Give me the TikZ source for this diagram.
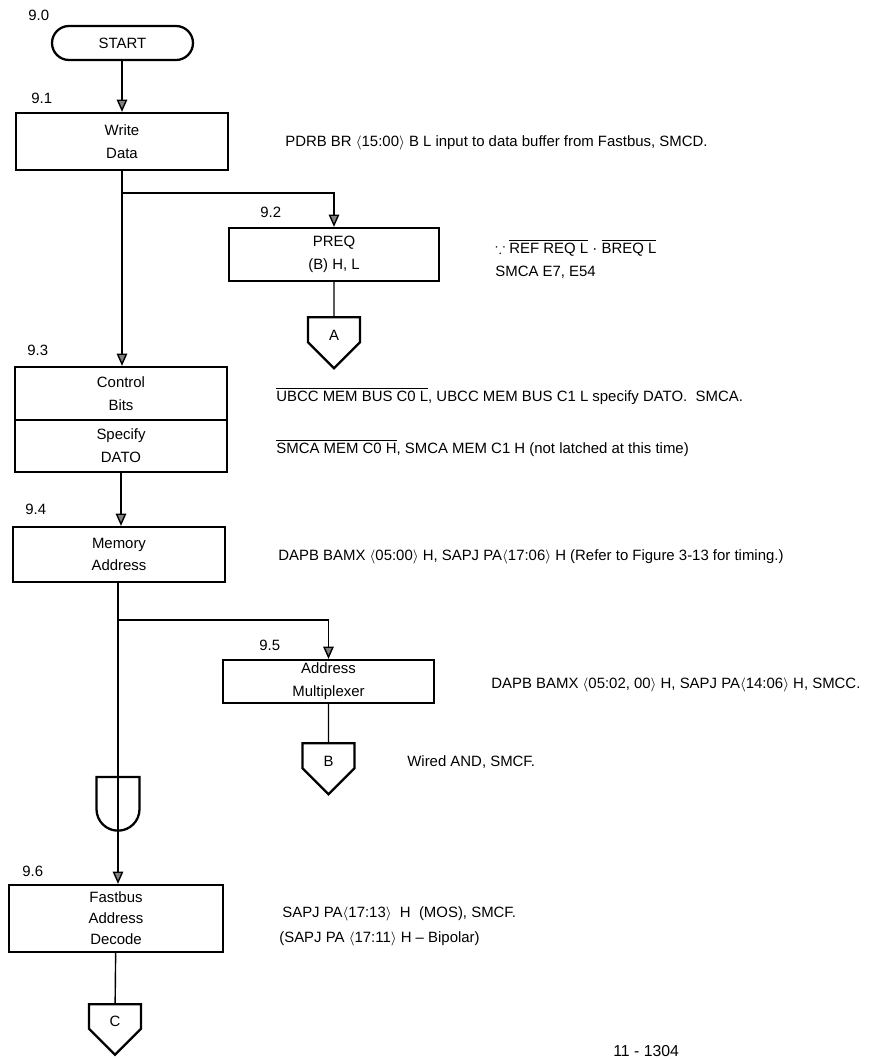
\documentclass[tikz,border=0pt]{standalone}
\usepackage{amssymb}
\usepackage{fontspec}
\setmainfont{Liberation Sans}
\usetikzlibrary{positioning}
\usetikzlibrary{arrows.meta}
\usetikzlibrary{shapes.symbols}
\usetikzlibrary{shapes.gates.logic.US}
\newcommand{\boxfont}{\fontsize{8.5}{13}\selectfont}
\newcommand{\ovl}[1]{$\overline{\mbox{#1}}$}
\newcommand{\abl}{\ensuremath{\langle}}
\newcommand{\abr}{\ensuremath{\rangle}}
\newcommand{\conlab}[1]{\raisebox{-3pt}[\height][\depth]{#1}}
\tikzset{
    stepbox/.style = {rectangle, draw=black, line width=1.3pt, minimum width=4.24cm, align=center, inner sep=0pt, font=\boxfont},
    startnode/.style = {rectangle, rounded corners=0.34cm, draw=black, line width=1.3pt, minimum width=2.82cm, minimum height=0.68cm, font=\boxfont},
    offpage/.style = {signal, signal to=south, draw=black, line width=1.3pt, minimum width=1.04cm, minimum height=0.6cm, inner sep=0pt, font=\boxfont},
    andnode/.style = {and gate US, draw=black, line width=1.3pt, rotate=-90, minimum width=0.88cm, minimum height=0.86cm, inner sep=0pt},
    stepno/.style = {anchor=base west, inner sep=0pt, font=\boxfont},
    note/.style = {anchor=base west, inner sep=0pt, font=\boxfont},
    edgen/.style = {-{Triangle[width=6pt,length=7pt,fill=gray]}, line width=0.8pt},
    edgel/.style = {line width=0.8pt}
}
\begin{document}
\begin{tikzpicture}[x=0.02cm, y=-0.02cm]
\useasboundingbox (0,0) rectangle (877,1059);
%
\node[startnode] at (122.5, 43) (start) {START};
\node[stepbox, minimum height=1.14cm] at (122, 141.5) (write) {Write\\Data};
\node[stepbox, minimum width=4.2cm, minimum height=1.06cm] at (334, 254.5) (preq) {PREQ\\(B) H, L};
\node[offpage, anchor=north] at (334, 316) (A) {\conlab{A}};
\node[stepbox, minimum height=1.06cm] at (121, 393.5) (ctrl) {Control\\Bits};
\node[stepbox, minimum height=1.04cm] at (121, 446) (dato) {Specify\\DATO};
\node[stepbox, minimum height=1.1cm] at (119, 554.5) (mem) {Memory\\Address};
\node[stepbox, minimum width=4.22cm, minimum height=0.86cm] at (328.5, 681.5) (amux) {Address\\Multiplexer};
\node[offpage, anchor=north] at (328.5, 742) (B) {\conlab{B}};
\node[andnode] at (118, 802) (and) {};
\node[stepbox, minimum width=4.28cm, minimum height=1.34cm] at (116, 918.5) (fast) {Fastbus\\[-1pt]Address\\[-1pt]Decode};
\node[offpage, anchor=north] at (115, 1003) (C) {\conlab{C}};
%
\node[stepno] at (28, 20) (s90) {9.0};
\node[stepno] at (31, 103) (s91) {9.1};
\node[stepno] at (260, 217) (s92) {9.2};
\node[stepno] at (27, 355) (s93) {9.3};
\node[stepno] at (25, 514) (s94) {9.4};
\node[stepno] at (259, 650) (s95) {9.5};
\node[stepno] at (22, 876) (s96) {9.6};
%
\coordinate (j1) at (122, 193);
\coordinate (j2) at (118, 620);
\draw[edgen] (start.south -| write) -- (write.north);
\draw[edgen] (write.south) -- (write.south |- ctrl.north);
\draw[edgen] (j1) -| (preq);
\draw[edgel] (preq) -- (A);
\draw[edgen] (dato.south) -- (dato.south |- mem.north);
\draw[edgen] (mem.south -| j2) -- (j2 |- fast.north);
\draw[edgen] (j2) -| (amux);
\draw[edgel] (amux) -- (B);
\draw[edgel] (fast) -- (C);
%
\node[note] at (285, 146) (n1) {PDRB BR \abl15:00\abr\ B L input to data buffer from Fastbus, SMCD.};
\node[note] at (495, 253) (n2) {$\because$ \ovl{REF REQ L} · \ovl{BREQ L}};
\node[note] at (495, 276) (n2b) {SMCA E7, E54};
\node[note] at (276, 401) (n3) {\ovl{UBCC MEM BUS C0 L}, UBCC MEM BUS C1 L specify DATO.\ \ SMCA.};
\node[note] at (276, 453) (n3b) {\ovl{SMCA MEM C0 H}, SMCA MEM C1 H (not latched at this time)};
\node[note] at (278, 560) (n4) {DAPB BAMX \abl05:00\abr\ H, SAPJ PA\abl17:06\abr\ H (Refer to Figure 3-13 for timing.)};
\node[note] at (491, 688) (n5) {DAPB BAMX \abl05:02, 00\abr\ H, SAPJ PA\abl14:06\abr\ H, SMCC.};
\node[note] at (407, 766) (n5b) {Wired AND, SMCF.};
\node[note] at (282, 917) (n6) {SAPJ PA\abl17:13\abr\ \ H\ \ (MOS), SMCF.};
\node[note] at (279, 942) (n6b) {(SAPJ PA \abl17:11\abr\ H -- Bipolar)};
\node[note, font=\fontsize{9}{11}\selectfont] at (613, 1056) (fig) {11 - 1304};

\end{tikzpicture}
\end{document}
